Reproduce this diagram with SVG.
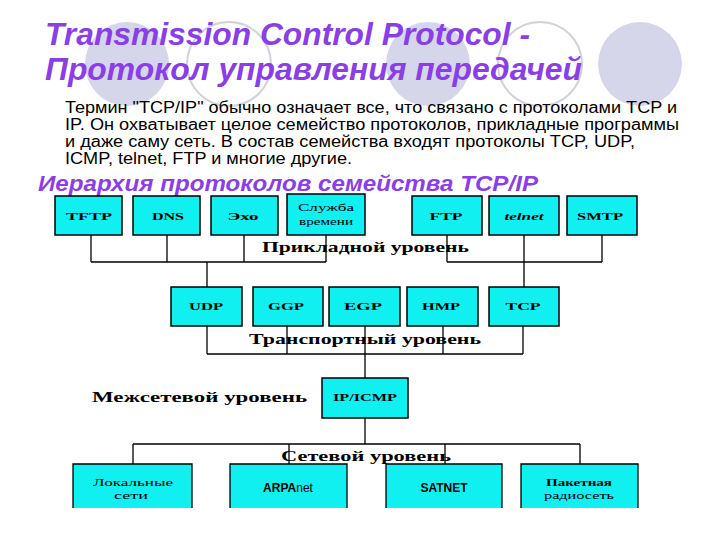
<svg xmlns="http://www.w3.org/2000/svg" width="720" height="540" viewBox="0 0 720 540">
<style>
.bg{fill:#d6d6ea}
.ring{fill:#ffffff;stroke:#d2d2d6;stroke-width:2}
.title{font-family:"Liberation Sans",Arial,sans-serif;font-weight:bold;font-style:italic;fill:#8a3fe6}
.body{font-family:"Liberation Sans",Arial,sans-serif;font-size:16px;fill:#000}
.box{fill:#11f0f0;stroke:#000;stroke-width:1.5}
.lbl{font-family:"Liberation Serif","Times New Roman",serif;font-weight:bold;font-size:11px;fill:#000;text-anchor:middle}
.sm{font-family:"Liberation Serif","Times New Roman",serif;font-size:10px;fill:#000;text-anchor:middle}
.sans{font-family:"Liberation Sans",Arial,sans-serif;font-size:12px;fill:#000;text-anchor:middle}
.layer{font-family:"Liberation Serif","Times New Roman",serif;font-weight:bold;font-size:15px;fill:#000}
.wire{fill:none;stroke:#000;stroke-width:1.3}
</style>
<rect width="720" height="540" fill="#ffffff"/>
<g id="decor">
<circle class="bg" cx="127" cy="64" r="42"/>
<circle class="ring" cx="229" cy="64" r="42"/>
<circle class="bg" cx="428" cy="64" r="42"/>
<circle class="ring" cx="540" cy="64" r="42"/>
<circle class="bg" cx="640" cy="64" r="42"/>
</g>
<g id="heading">
<text class="title" x="45" y="45" font-size="32" textLength="485" lengthAdjust="spacingAndGlyphs">Transmission Control Protocol -</text>
<text class="title" x="45" y="80" font-size="32" textLength="537" lengthAdjust="spacingAndGlyphs">Протокол управления передачей</text>
</g>
<g id="intro">
<text class="body" x="65" y="113" textLength="612" lengthAdjust="spacingAndGlyphs">Термин "TCP/IP" обычно означает все, что связано с протоколами TCP и</text>
<text class="body" x="65" y="130" textLength="614" lengthAdjust="spacingAndGlyphs">IP. Он охватывает целое семейство протоколов, прикладные программы</text>
<text class="body" x="65" y="147" textLength="570" lengthAdjust="spacingAndGlyphs">и даже саму сеть. В состав семейства входят протоколы TCP, UDP,</text>
<text class="body" x="65" y="164" textLength="287" lengthAdjust="spacingAndGlyphs">ICMP, telnet, FTP и многие другие.</text>
</g>
<text class="title" x="38" y="191" font-size="22" textLength="500" lengthAdjust="spacingAndGlyphs">Иерархия протоколов семейства TCP/IP</text>
<g id="connectors">
<path class="wire" d="M91 235V262M167 235V262M244 235V262M326 235V262M91 262H326M207 262V287"/>
<path class="wire" d="M447 235V262M524 235V287M602 235V262M447 262H602"/>
<path class="wire" d="M207 326V354M287 326V354M365 326V378M443 326V354M523 326V354M207 354H523"/>
<path class="wire" d="M365 418V444M133 444H580M133 444V464M289 444V464M445 444V464M580 444V464"/>
</g>
<g id="layers">
<text class="layer" x="262" y="252" textLength="207" lengthAdjust="spacingAndGlyphs">Прикладной уровень</text>
<text class="layer" x="249" y="344" textLength="232" lengthAdjust="spacingAndGlyphs">Транспортный уровень</text>
<text class="layer" x="92" y="402" textLength="215" lengthAdjust="spacingAndGlyphs">Межсетевой уровень</text>
<text class="layer" x="281" y="461" textLength="170" lengthAdjust="spacingAndGlyphs">Сетевой уровень</text>
</g>
<g id="tftp"><rect class="box" x="55" y="196" width="67" height="39"/><text class="lbl" x="89" y="220" textLength="46" lengthAdjust="spacingAndGlyphs">TFTP</text></g>
<g id="dns"><rect class="box" x="133" y="196" width="67" height="39"/><text class="lbl" x="168" y="220" textLength="32" lengthAdjust="spacingAndGlyphs">DNS</text></g>
<g id="echo"><rect class="box" x="211" y="196" width="67" height="39"/><text class="lbl" x="243" y="220" textLength="31" lengthAdjust="spacingAndGlyphs">Эхо</text></g>
<g id="time"><rect class="box" x="287" y="194" width="78" height="41"/><text class="sm" x="326" y="211" textLength="56" lengthAdjust="spacingAndGlyphs">Служба</text><text class="sm" x="326" y="225" textLength="54" lengthAdjust="spacingAndGlyphs">времени</text></g>
<g id="ftp"><rect class="box" x="412" y="196" width="70" height="39"/><text class="lbl" x="446" y="220" textLength="33" lengthAdjust="spacingAndGlyphs">FTP</text></g>
<g id="telnet"><rect class="box" x="489" y="196" width="70" height="39"/><text class="lbl" x="524" y="220" font-style="italic" font-weight="normal" textLength="39" lengthAdjust="spacingAndGlyphs">telnet</text></g>
<g id="smtp"><rect class="box" x="567" y="196" width="70" height="39"/><text class="lbl" x="600" y="220" textLength="46" lengthAdjust="spacingAndGlyphs">SMTP</text></g>
<g id="udp"><rect class="box" x="171" y="287" width="71" height="39"/><text class="lbl" x="206" y="310" textLength="34" lengthAdjust="spacingAndGlyphs">UDP</text></g>
<g id="ggp"><rect class="box" x="253" y="287" width="70" height="39"/><text class="lbl" x="286" y="310" textLength="36" lengthAdjust="spacingAndGlyphs">GGP</text></g>
<g id="egp"><rect class="box" x="329" y="287" width="71" height="39"/><text class="lbl" x="363" y="310" textLength="38" lengthAdjust="spacingAndGlyphs">EGP</text></g>
<g id="hmp"><rect class="box" x="407" y="287" width="71" height="39"/><text class="lbl" x="441" y="310" textLength="38" lengthAdjust="spacingAndGlyphs">HMP</text></g>
<g id="tcp"><rect class="box" x="489" y="287" width="70" height="39"/><text class="lbl" x="523" y="310" textLength="35" lengthAdjust="spacingAndGlyphs">TCP</text></g>
<g id="ipicmp"><rect class="box" x="322" y="378" width="86" height="40"/><text class="lbl" x="365" y="401" textLength="64" lengthAdjust="spacingAndGlyphs">IP/ICMP</text></g>
<g id="lan"><rect x="73" y="464" width="119" height="44" fill="#11f0f0"/><path class="wire" d="M73 508V464H192V508" stroke-width="1.5"/><text class="sm" x="133" y="486" textLength="80" lengthAdjust="spacingAndGlyphs">Локальные</text><text class="sm" x="131" y="499" textLength="34" lengthAdjust="spacingAndGlyphs">сети</text></g>
<g id="arpanet"><rect x="230" y="464" width="117" height="44" fill="#11f0f0"/><path class="wire" d="M230 508V464H347V508" stroke-width="1.5"/><text class="sans" x="288" y="492"><tspan font-weight="bold">ARPA</tspan>net</text></g>
<g id="satnet"><rect x="386" y="464" width="116" height="44" fill="#11f0f0"/><path class="wire" d="M386 508V464H502V508" stroke-width="1.5"/><text class="sans" x="444" y="492" font-weight="bold">SATNET</text></g>
<g id="packet"><rect x="521" y="464" width="117" height="44" fill="#11f0f0"/><path class="wire" d="M521 508V464H638V508" stroke-width="1.5"/><text class="sm" x="579" y="486" font-weight="bold" textLength="66" lengthAdjust="spacingAndGlyphs">Пакетная</text><text class="sm" x="579" y="499" textLength="70" lengthAdjust="spacingAndGlyphs">радиосеть</text></g>
</svg>
